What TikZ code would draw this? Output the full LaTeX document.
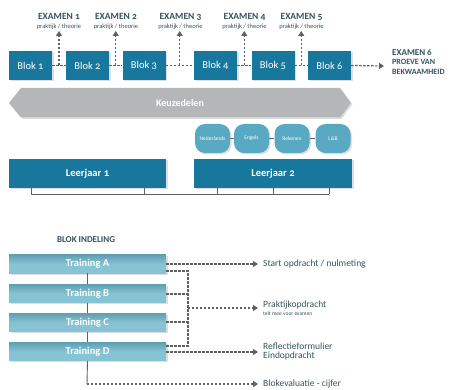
\documentclass[tikz,border=0pt]{standalone}
\usepackage{fontspec}
\setmainfont{Carlito}[Numbers=OldStyle]
\usetikzlibrary{arrows.meta,shadows,calc}
\definecolor{blokc}{HTML}{18779C}
\definecolor{txtc}{HTML}{35535A}
\definecolor{linec}{HTML}{606060}
\definecolor{pillc}{HTML}{5AA9C3}
\definecolor{trainc}{HTML}{86C3D3}
\definecolor{traind}{HTML}{5E9FB2}
\definecolor{keuzec}{HTML}{B5B6B7}
\tikzset{
  shad/.style={drop shadow={opacity=0.25,shadow xshift=1.5pt,shadow yshift=-1.5pt}},
  blokbox/.style={fill=blokc,text=white,minimum width=43pt,minimum height=29pt,inner sep=0pt,font=\fontsize{10.5}{12}\selectfont,shad},
  jaarbox/.style={fill=blokc,text=white,minimum height=29pt,inner sep=0pt,font=\fontsize{10.5}{12}\selectfont\bfseries,shad},
  pill/.style={fill=pillc,text=white,rounded corners=10pt,minimum width=35pt,minimum height=29pt,inner sep=0pt,font=\fontsize{5.5}{6}\selectfont,shad},
  trainbox/.style={top color=traind,bottom color=trainc,middle color=trainc,text=white,minimum width=157pt,minimum height=18.5pt,inner sep=0pt,font=\fontsize{10.5}{12}\selectfont\bfseries,shad},
  examlbl/.style={text=txtc,align=center,inner sep=0pt,font=\fontsize{9.5}{10}\selectfont\bfseries},
  sidelbl/.style={text=txtc,anchor=west,inner sep=0pt,align=left,font=\fontsize{9.5}{11}\selectfont},
  dline/.style={draw=linec,line width=1.2pt,dash pattern=on 2.4pt off 1.6pt},
  darrow/.style={dline,-{Triangle[length=5pt,width=6pt]}},
  sline/.style={draw=linec,line width=0.9pt},
}
\begin{document}
\begin{tikzpicture}[x=1pt,y=-1pt]
\useasboundingbox (0,0) rectangle (452,390);
% Bloks
\node[blokbox] (b1) at (30.5,65.5) {Blok 1};
\node[blokbox] (b2) at (87.5,65.5) {Blok 2};
\node[blokbox] (b3) at (144,65.5) {Blok 3};
\node[blokbox] (b4) at (215.5,65.5) {Blok 4};
\node[blokbox] (b5) at (273,65.5) {Blok 5};
\node[blokbox] (b6) at (329.5,65.5) {Blok 6};
% exam labels
\node[examlbl] (e1) at (59,21) {EXAMEN 1\\[-1pt]{\fontsize{6.5}{7}\selectfont\mdseries praktijk / theorie}};
\node[examlbl] (e2) at (116,21) {EXAMEN 2\\[-1pt]{\fontsize{6.5}{7}\selectfont\mdseries praktijk / theorie}};
\node[examlbl] (e3) at (180.5,21) {EXAMEN 3\\[-1pt]{\fontsize{6.5}{7}\selectfont\mdseries praktijk / theorie}};
\node[examlbl] (e4) at (244.5,21) {EXAMEN 4\\[-1pt]{\fontsize{6.5}{7}\selectfont\mdseries praktijk / theorie}};
\node[examlbl] (e5) at (301.5,21) {EXAMEN 5\\[-1pt]{\fontsize{6.5}{7}\selectfont\mdseries praktijk / theorie}};
\node[examlbl,anchor=north west,align=left,font=\fontsize{9}{11}\selectfont\bfseries] (e6) at (392,49) {EXAMEN 6\\[-1.5pt]{\fontsize{8}{11}\selectfont PROEVE VAN}\\[-1.5pt]{\fontsize{8}{11}\selectfont BEKWAAMHEID}};
\coordinate (e6a) at (384,66);
% dashed chain
\draw[dline] (b1.east) -- (b2.west);
\draw[dline] (b2.east) -- (b3.west);
\draw[dline] (b3.east) -- (b4.west);
\draw[dline] (b4.east) -- (b5.west);
\draw[dline] (b5.east) -- (b6.west);
\draw[darrow] (b6.east) -- (e6a);
\coordinate (m1) at ($(b1.east)!0.5!(b2.west)$);
\coordinate (m2) at ($(b2.east)!0.5!(b3.west)$);
\coordinate (m3) at ($(b3.east)!0.5!(b4.west)$);
\coordinate (m4) at ($(b4.east)!0.5!(b5.west)$);
\coordinate (m5) at ($(b5.east)!0.5!(b6.west)$);
\draw[darrow] (m1) -- (m1 |- 0,31);
\draw[darrow] (m2) -- (m2 |- 0,31);
\draw[darrow] (m3) -- (m3 |- 0,31);
\draw[darrow] (m4) -- (m4 |- 0,31);
\draw[darrow] (m5) -- (m5 |- 0,31);
% Keuzedelen
\fill[keuzec,shad] (9,103) -- (21,88) -- (340,88) -- (351,103) -- (340,117.5) -- (21,117.5) -- cycle;
\node[text=white,font=\fontsize{10}{12}\selectfont\bfseries] (kz) at (180,103) {Keuzedelen};
% pills
\node[pill] (p1) at (212.5,138.5) {Nederlands};
\node[pill] (p2) at (251.5,138.5) {Engels};
\node[pill] (p3) at (292,138.5) {Rekenen};
\node[pill] (p4) at (333,138.5) {L\&B};
\draw[sline] (p1.east) -- (p2.west);
\draw[sline] (p2.east) -- (p3.west);
\draw[sline] (p3.east) -- (p4.west);
% Leerjaar
\node[jaarbox,minimum width=157pt] (l1) at (87.5,173.5) {Leerjaar 1};
\node[jaarbox,minimum width=158pt] (l2) at (273,173.5) {Leerjaar 2};
\coordinate (t1) at (31,194);
\coordinate (t2) at (144,194);
\coordinate (t3) at (217,194);
\coordinate (t4) at (273,194);
\coordinate (t5) at (329,194);
\draw[sline,line width=0.8pt] (t1) -- (t5);
\foreach \t in {t1,t2,t3,t4,t5} \draw[sline,line width=0.8pt] (\t) -- ++(0,-6);
% Blok indeling
\node[text=txtc,font=\fontsize{9}{10}\selectfont\bfseries] (bi) at (86,239.5) {BLOK INDELING};
\node[trainbox] (ta) at (87.5,264) {Training A};
\node[trainbox] (tb) at (87.5,293.5) {Training B};
\node[trainbox] (tc) at (87.5,322.5) {Training C};
\node[trainbox] (td) at (87.5,351.5) {Training D};
\draw[sline] (ta.south) -- (tb.north);
\draw[sline] (tb.south) -- (tc.north);
\draw[sline] (tc.south) -- (td.north);
\coordinate (vb) at (87,384);
\draw[sline] (td.south) -- (vb);
% right labels
\node[sidelbl] (s1) at (263,264) {Start opdracht / nulmeting};
\node[sidelbl] (s2) at (263,305) {Praktijkopdracht};
\node[sidelbl,font=\fontsize{5.5}{6}\selectfont] (s2b) at (263,314) {telt mee voor examen};
\node[sidelbl] (s3) at (263,351.5) {Reflectieformulier\\[-1.5pt]Eindopdracht};
\node[sidelbl] (s4) at (263,384) {Blokevaluatie - cijfer};
\coordinate (a1) at (258,264);
\coordinate (a2) at (258,308);
\coordinate (a3) at (258,352);
\coordinate (a4) at (258,384);
\coordinate (jx) at (188,308);
\draw[darrow] (ta.east |- 0,264) -- (a1);
\draw[dline] (ta.east |- 0,271) -- (188,271) -- (188,346) -- (td.east |- 0,346);
\draw[dline] (tb.east |- 0,294) -- (188,294);
\draw[dline] (tc.east |- 0,322) -- (188,322);
\draw[darrow] (jx) -- (a2);
\draw[darrow] (td.east |- 0,352) -- (a3);
\draw[darrow] (vb) -- (a4);
\end{tikzpicture}
\end{document}
